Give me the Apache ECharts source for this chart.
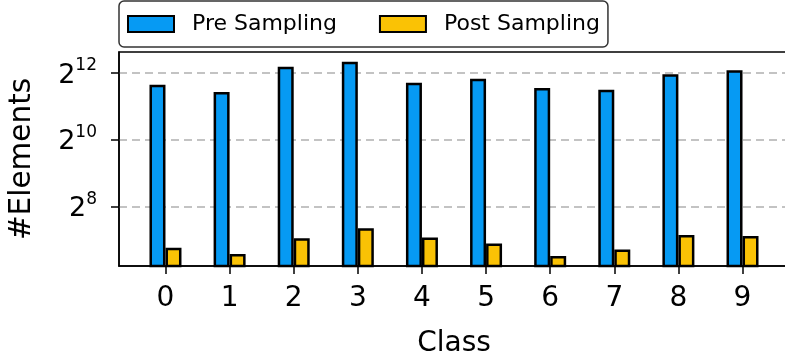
<!DOCTYPE html>
<html>
<head>
<meta charset="utf-8">
<script src="https://cdn.jsdelivr.net/npm/echarts@6/dist/echarts.min.js"></script>
<style>html,body{margin:0;padding:0;background:#fff;}#c{width:785px;height:356px;}</style>
</head>
<body>
<div id="c"></div>
<script>
const classes = [0, 1, 2, 3, 4, 5, 6, 7, 8, 9];
const preSampling = [3210, 2760, 4670, 5180, 3350, 3640, 3000, 2900, 3990, 4330];
const postSampling = [109, 96, 133, 163, 135, 119, 92, 105, 142, 139];
const yTickValues = [256, 1024, 4096];
const yTickExponents = ['8', '10', '12'];
const seriesNames = ['Pre Sampling', 'Post Sampling'];

const FONT = 'DejaVu Sans';
const chart = echarts.init(document.getElementById('c'), null, {renderer: 'canvas'});

function pairs(vals) { return classes.map((c, i) => [c, vals[i]]); }

chart.setOption({
  animation: false,
  backgroundColor: '#fff',
  textStyle: {fontFamily: FONT},
  grid: {left: 119, top: 52, width: 670, height: 214, show: true, borderColor: '#000', borderWidth: 1.5,
         backgroundColor: 'transparent', containLabel: false, outerBoundsMode: 'none'},
  legend: {
    left: 119, top: 1,
    padding: [12, 8, 12, 8],
    itemWidth: 46, itemHeight: 16, itemGap: 42,
    borderColor: '#333', borderWidth: 1.5, borderRadius: 5,
    backgroundColor: '#fff',
    icon: 'rect',
    itemStyle: {borderColor: '#000', borderWidth: 2},
    textStyle: {fontFamily: FONT, fontSize: 22, lineHeight: 18, color: '#000', padding: [0, 0, 0, 13]},
    data: seriesNames
  },
  xAxis: {
    type: 'value', min: -0.725, max: 9.725,
    name: 'Class', nameLocation: 'middle', nameGap: 64,
    nameTextStyle: {fontFamily: FONT, fontSize: 28, color: '#000'},
    axisLine: {show: true, onZero: false, lineStyle: {color: '#000', width: 1.5}},
    axisTick: {show: true, length: 8, customValues: classes, lineStyle: {color: '#000', width: 1.5}},
    axisLabel: {customValues: classes, margin: 19, fontFamily: FONT, fontSize: 28, color: '#000', formatter: v => String(v)},
    splitLine: {show: false}
  },
  yAxis: {
    type: 'log', logBase: 2, min: Math.pow(2, 6.222), max: Math.pow(2, 12.63),
    name: '#Elements', nameLocation: 'middle', nameGap: 82,
    nameTextStyle: {fontFamily: FONT, fontSize: 29.5, color: '#000'},
    axisLine: {show: true, onZero: false, lineStyle: {color: '#000', width: 1.5}},
    axisTick: {show: true, length: 8, customValues: yTickValues, lineStyle: {color: '#000', width: 1.5}},
    axisLabel: {
      customValues: yTickValues, margin: 22, color: '#000',
      formatter: v => '{b|2}{s|' + yTickExponents[yTickValues.indexOf(Math.round(v))] + '}',
      rich: {
        b: {fontFamily: FONT, fontSize: 27, color: '#000', lineHeight: 32, verticalAlign: 'bottom'},
        s: {fontFamily: FONT, fontSize: 17, color: '#000', lineHeight: 15, verticalAlign: 'top'}
      }
    },
    splitLine: {show: true, lineStyle: {color: '#b0b0b0', width: 1.5, type: [8, 5]}}
  },
  series: [
    {name: seriesNames[0], type: 'bar', data: pairs(preSampling), barWidth: 16, barGap: '0%',
     itemStyle: {color: '#069AF3', borderColor: '#000', borderWidth: 2.5}},
    {name: seriesNames[1], type: 'bar', data: pairs(postSampling), barWidth: 16, barGap: '0%',
     itemStyle: {color: '#FAC205', borderColor: '#000', borderWidth: 2.5}}
  ]
});
</script>
</body>
</html>
